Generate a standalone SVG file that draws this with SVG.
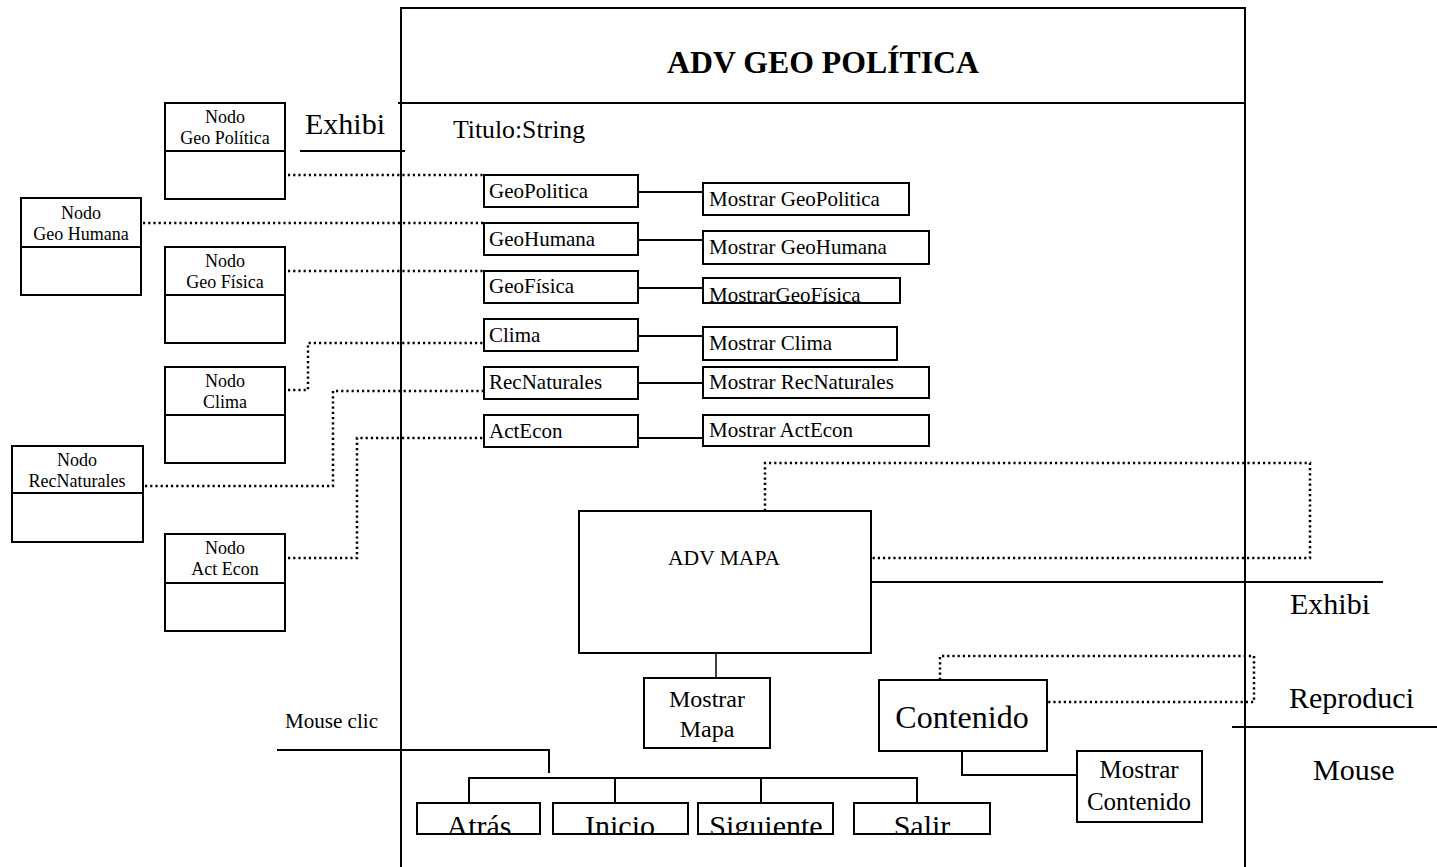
<svg xmlns="http://www.w3.org/2000/svg" width="1437" height="867" viewBox="0 0 1437 867" font-family="'Liberation Serif', Tinos, 'Times New Roman', 'DejaVu Serif', serif">
  <style>
    .box { fill: #fff; stroke: #000; stroke-width: 2; }
    .ln { fill: none; stroke: #000; stroke-width: 2; }
    .thin { fill: none; stroke: #000; stroke-width: 1.5; }
    .dot { fill: none; stroke: #000; stroke-width: 2.5; stroke-dasharray: 2.2 3; }
    text { font-family: 'Liberation Serif', Tinos, 'Times New Roman', 'DejaVu Serif', serif; fill: #000; }
    .n18 { font-size: 18px; text-anchor: middle; }
    .m21 { font-size: 21px; }
    .big { font-size: 30px; }
  </style>
  <defs>
    <clipPath id="clipGeoFis"><rect x="703" y="278" width="197" height="25"/></clipPath>
    <clipPath id="clipBtns"><rect x="400" y="790" width="600" height="44"/></clipPath>
  </defs>
  <rect width="1437" height="867" fill="#fff"/>

  <!-- main class frame -->
  <g id="adv-geo-politica">
    <path class="ln" d="M401,867 V8 H1245 V867"/>
    <line class="ln" x1="398" y1="103" x2="1245" y2="103"/>
    <text x="823" y="73" font-size="31" font-weight="bold" text-anchor="middle" textLength="312" lengthAdjust="spacingAndGlyphs">ADV GEO POLÍTICA</text>
    <text x="453" y="138" font-size="25" textLength="132" lengthAdjust="spacingAndGlyphs">Titulo:String</text>
  </g>

  <!-- free labels and rules -->
  <g id="labels">
    <text class="big" x="305" y="134">Exhibi</text>
    <line class="ln" x1="300" y1="151" x2="405" y2="151"/>
    <text class="big" x="1290" y="614">Exhibi</text>
    <line class="ln" x1="871" y1="582" x2="1383" y2="582"/>
    <text class="big" x="1289" y="708">Reproduci</text>
    <line class="ln" x1="1232" y1="727" x2="1437" y2="727"/>
    <text class="big" x="1313" y="780">Mouse</text>
    <text x="285" y="728" font-size="20" textLength="93" lengthAdjust="spacingAndGlyphs">Mouse clic</text>
  </g>

  <!-- external nodes -->
  <g id="nodo-geo-politica">
    <rect class="box" x="165" y="103" width="120" height="96"/>
    <line class="ln" x1="165" y1="151" x2="285" y2="151"/>
    <text class="n18" x="225" y="123">Nodo</text>
    <text class="n18" x="225" y="144">Geo Política</text>
  </g>
  <g id="nodo-geo-humana">
    <rect class="box" x="21" y="198" width="120" height="97"/>
    <line class="ln" x1="21" y1="247" x2="141" y2="247"/>
    <text class="n18" x="81" y="219">Nodo</text>
    <text class="n18" x="81" y="240">Geo Humana</text>
  </g>
  <g id="nodo-geo-fisica">
    <rect class="box" x="165" y="247" width="120" height="96"/>
    <line class="ln" x1="165" y1="295" x2="285" y2="295"/>
    <text class="n18" x="225" y="267">Nodo</text>
    <text class="n18" x="225" y="288">Geo Física</text>
  </g>
  <g id="nodo-clima">
    <rect class="box" x="165" y="367" width="120" height="96"/>
    <line class="ln" x1="165" y1="415" x2="285" y2="415"/>
    <text class="n18" x="225" y="387">Nodo</text>
    <text class="n18" x="225" y="408">Clima</text>
  </g>
  <g id="nodo-recnaturales">
    <rect class="box" x="12" y="446" width="131" height="96"/>
    <line class="ln" x1="12" y1="493" x2="143" y2="493"/>
    <text class="n18" x="77" y="466">Nodo</text>
    <text class="n18" x="77" y="487">RecNaturales</text>
  </g>
  <g id="nodo-act-econ">
    <rect class="box" x="165" y="534" width="120" height="97"/>
    <line class="ln" x1="165" y1="583" x2="285" y2="583"/>
    <text class="n18" x="225" y="554">Nodo</text>
    <text class="n18" x="225" y="575">Act Econ</text>
  </g>

  <!-- attribute boxes -->
  <g id="geopolitica"><rect class="box" x="484" y="175" width="154" height="32"/><text class="m21" x="489" y="198">GeoPolitica</text></g>
  <g id="geohumana"><rect class="box" x="484" y="223" width="154" height="32"/><text class="m21" x="489" y="246">GeoHumana</text></g>
  <g id="geofisica"><rect class="box" x="484" y="271" width="154" height="32"/><text class="m21" x="489" y="293">GeoFísica</text></g>
  <g id="clima"><rect class="box" x="484" y="319" width="154" height="32"/><text class="m21" x="489" y="342">Clima</text></g>
  <g id="recnaturales"><rect class="box" x="484" y="367" width="154" height="32"/><text class="m21" x="489" y="389">RecNaturales</text></g>
  <g id="actecon"><rect class="box" x="484" y="415" width="154" height="32"/><text class="m21" x="489" y="438">ActEcon</text></g>

  <!-- method boxes -->
  <g id="mostrar-geopolitica"><rect class="box" x="703" y="183" width="206" height="32"/><text class="m21" x="709" y="206">Mostrar GeoPolitica</text></g>
  <g id="mostrar-geohumana"><rect class="box" x="703" y="231" width="226" height="33"/><text class="m21" x="709" y="254">Mostrar GeoHumana</text></g>
  <g id="mostrar-geofisica"><rect class="box" x="703" y="278" width="197" height="25"/><text class="m21" x="709" y="302" clip-path="url(#clipGeoFis)">MostrarGeoFísica</text></g>
  <g id="mostrar-clima"><rect class="box" x="703" y="327" width="194" height="33"/><text class="m21" x="709" y="350">Mostrar Clima</text></g>
  <g id="mostrar-recnaturales"><rect class="box" x="703" y="367" width="226" height="31"/><text class="m21" x="709" y="389">Mostrar RecNaturales</text></g>
  <g id="mostrar-actecon"><rect class="box" x="703" y="415" width="226" height="31"/><text class="m21" x="709" y="437">Mostrar ActEcon</text></g>

  <!-- map part -->
  <g id="adv-mapa">
    <rect class="box" x="579" y="511" width="292" height="142"/>
    <text x="724" y="565" font-size="21" text-anchor="middle" textLength="112" lengthAdjust="spacingAndGlyphs">ADV MAPA</text>
  </g>
  <g id="mostrar-mapa">
    <rect class="box" x="644" y="678" width="126" height="70"/>
    <text x="707" y="707" font-size="24" text-anchor="middle">Mostrar</text>
    <text x="707" y="737" font-size="24" text-anchor="middle">Mapa</text>
  </g>
  <g id="contenido">
    <rect class="box" x="879" y="680" width="168" height="71"/>
    <text x="962" y="728" font-size="32" text-anchor="middle">Contenido</text>
  </g>
  <g id="mostrar-contenido">
    <rect class="box" x="1077" y="751" width="125" height="71"/>
    <text x="1139" y="778" font-size="25" text-anchor="middle">Mostrar</text>
    <text x="1139" y="810" font-size="25" text-anchor="middle">Contenido</text>
  </g>

  <!-- navigation buttons -->
  <g id="btn-atras"><rect class="box" x="417" y="803" width="123" height="31"/><text class="big" x="479" y="836" text-anchor="middle" clip-path="url(#clipBtns)">Atrás</text></g>
  <g id="btn-inicio"><rect class="box" x="553" y="803" width="135" height="31"/><text class="big" x="620" y="836" text-anchor="middle" clip-path="url(#clipBtns)">Inicio</text></g>
  <g id="btn-siguiente"><rect class="box" x="698" y="803" width="135" height="31"/><text class="big" x="766" y="836" text-anchor="middle" clip-path="url(#clipBtns)">Siguiente</text></g>
  <g id="btn-salir"><rect class="box" x="854" y="803" width="136" height="31"/><text class="big" x="922" y="836" text-anchor="middle" clip-path="url(#clipBtns)">Salir</text></g>

  <!-- connectors -->
  <g id="connectors">
    <!-- node links (dotted) -->
    <path class="dot" d="M288,175 H484"/>
    <path class="dot" d="M143,223 H484"/>
    <path class="dot" d="M288,271 H484"/>
    <path class="dot" d="M288,390 H308 V343 H484"/>
    <path class="dot" d="M145,486 H333 V391 H484"/>
    <path class="dot" d="M288,558 H357 V438 H484"/>
    <path class="dot" d="M765,511 V463 H1310 V558 H871"/>
    <path class="dot" d="M940,680 V656 H1254 V702 H1047"/>
    <!-- attribute to method links -->
    <path class="ln" d="M638,192 H703"/>
    <path class="ln" d="M638,240 H703"/>
    <path class="ln" d="M638,288 H703"/>
    <path class="ln" d="M638,336 H703"/>
    <path class="ln" d="M638,383 H703"/>
    <path class="ln" d="M638,438 H703"/>
    <!-- part links -->
    <path class="thin" d="M716,653 V678"/>
    <path class="ln" d="M962,751 V775 H1077"/>
    <!-- mouse click tree -->
    <path class="ln" d="M277,750 H549 V773"/>
    <path class="ln" d="M469,803 V778 H917 V803"/>
    <path class="ln" d="M615,778 V803"/>
    <path class="ln" d="M761,778 V803"/>
  </g>
</svg>
